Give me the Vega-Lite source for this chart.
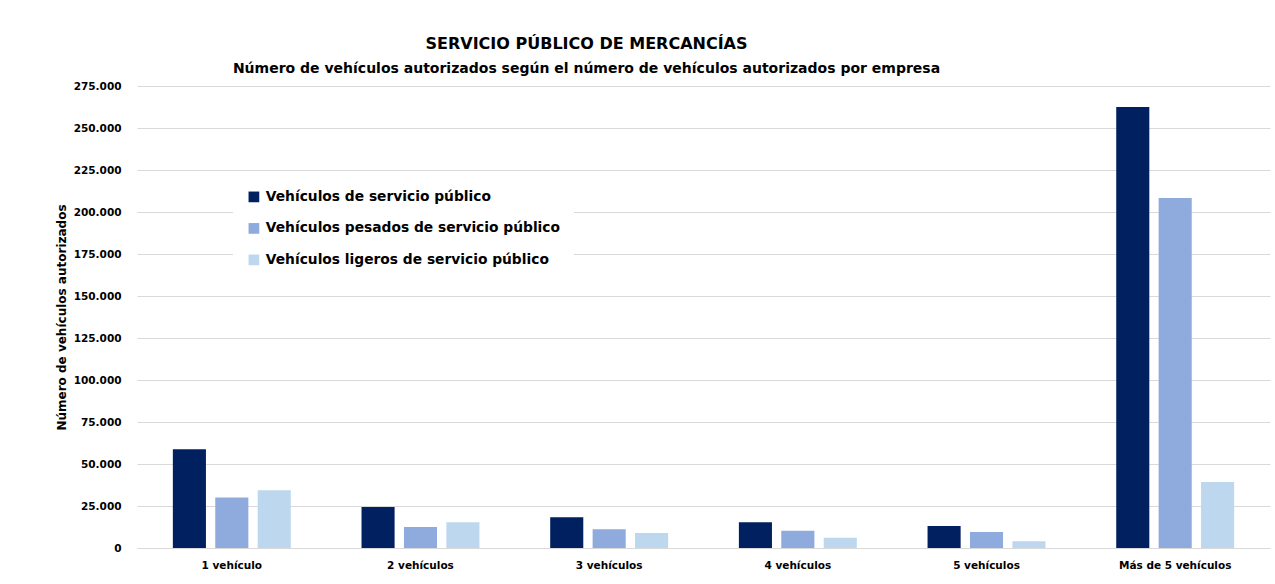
{
  "$schema": "https://vega.github.io/schema/vega-lite/v6.json",
  "autosize": "none",
  "width": 1133,
  "height": 462,
  "padding": {"left": 137, "top": 86, "right": 5, "bottom": 36},
  "background": "white",
  "title": {
    "text": "SERVICIO PÚBLICO DE MERCANCÍAS",
    "subtitle": "Número de vehículos autorizados según el número de vehículos autorizados por empresa",
    "anchor": "middle",
    "dx": -117,
    "offset": 5,
    "font": "DejaVu Sans",
    "fontSize": 16,
    "fontWeight": "bold",
    "color": "#000000",
    "subtitleFont": "DejaVu Sans",
    "subtitleFontSize": 14,
    "subtitleFontWeight": "bold",
    "subtitleColor": "#000000",
    "subtitlePadding": 10
  },
  "data": {
    "values": [
      {"categoria": "1 vehículo", "serie": "Vehículos de servicio público", "valor": 58800},
      {"categoria": "1 vehículo", "serie": "Vehículos pesados de servicio público", "valor": 30000},
      {"categoria": "1 vehículo", "serie": "Vehículos ligeros de servicio público", "valor": 34400},
      {"categoria": "2 vehículos", "serie": "Vehículos de servicio público", "valor": 24400},
      {"categoria": "2 vehículos", "serie": "Vehículos pesados de servicio público", "valor": 12500},
      {"categoria": "2 vehículos", "serie": "Vehículos ligeros de servicio público", "valor": 15300},
      {"categoria": "3 vehículos", "serie": "Vehículos de servicio público", "valor": 18300},
      {"categoria": "3 vehículos", "serie": "Vehículos pesados de servicio público", "valor": 11100},
      {"categoria": "3 vehículos", "serie": "Vehículos ligeros de servicio público", "valor": 8900},
      {"categoria": "4 vehículos", "serie": "Vehículos de servicio público", "valor": 15300},
      {"categoria": "4 vehículos", "serie": "Vehículos pesados de servicio público", "valor": 10300},
      {"categoria": "4 vehículos", "serie": "Vehículos ligeros de servicio público", "valor": 6100},
      {"categoria": "5 vehículos", "serie": "Vehículos de servicio público", "valor": 13100},
      {"categoria": "5 vehículos", "serie": "Vehículos pesados de servicio público", "valor": 9500},
      {"categoria": "5 vehículos", "serie": "Vehículos ligeros de servicio público", "valor": 4000},
      {"categoria": "Más de 5 vehículos", "serie": "Vehículos de servicio público", "valor": 262500},
      {"categoria": "Más de 5 vehículos", "serie": "Vehículos pesados de servicio público", "valor": 208300},
      {"categoria": "Más de 5 vehículos", "serie": "Vehículos ligeros de servicio público", "valor": 39300}
    ]
  },
  "mark": {"type": "bar"},
  "encoding": {
    "x": {
      "field": "categoria",
      "type": "nominal",
      "sort": null,
      "scale": {"paddingInner": 0.375, "paddingOuter": 0.19},
      "axis": {
        "title": null,
        "labelAngle": 0,
        "labelFont": "DejaVu Sans",
        "labelFontSize": 10.5,
        "labelFontWeight": "bold",
        "labelColor": "#000000",
        "labelPadding": 12,
        "ticks": false,
        "domainColor": "#D9D9D9",
        "grid": false
      }
    },
    "xOffset": {
      "field": "serie",
      "type": "nominal",
      "sort": null,
      "scale": {"paddingInner": 0.22}
    },
    "y": {
      "field": "valor",
      "type": "quantitative",
      "scale": {"domain": [0, 275000], "nice": false},
      "axis": {
        "title": "Número de vehículos autorizados",
        "titleFont": "DejaVu Sans",
        "titleFontSize": 12,
        "titleFontWeight": "bold",
        "titleColor": "#000000",
        "titlePadding": 5,
        "values": [0, 25000, 50000, 75000, 100000, 125000, 150000, 175000, 200000, 225000, 250000, 275000],
        "labelExpr": "replace(format(datum.value, ','), /,/g, '.')",
        "labelFont": "DejaVu Sans",
        "labelFontSize": 10.5,
        "labelFontWeight": "bold",
        "labelColor": "#000000",
        "labelPadding": 16,
        "ticks": false,
        "domain": false,
        "gridColor": "#D9D9D9",
        "gridWidth": 1
      }
    },
    "color": {
      "field": "serie",
      "type": "nominal",
      "sort": null,
      "scale": {
        "domain": ["Vehículos de servicio público", "Vehículos pesados de servicio público", "Vehículos ligeros de servicio público"],
        "range": ["#002060", "#8FAADC", "#BDD7EE"]
      },
      "legend": {
        "title": null,
        "orient": "none",
        "legendX": 96,
        "legendY": 90,
        "fillColor": "white",
        "padding": 14,
        "symbolType": "square",
        "symbolSize": 115,
        "symbolStrokeWidth": 0,
        "labelFont": "DejaVu Sans",
        "labelFontSize": 13.8,
        "labelFontWeight": "bold",
        "labelColor": "#000000",
        "labelOffset": 5,
        "rowPadding": 16.5,
        "labelLimit": 400
      }
    }
  },
  "config": {
    "view": {"stroke": null}
  }
}
